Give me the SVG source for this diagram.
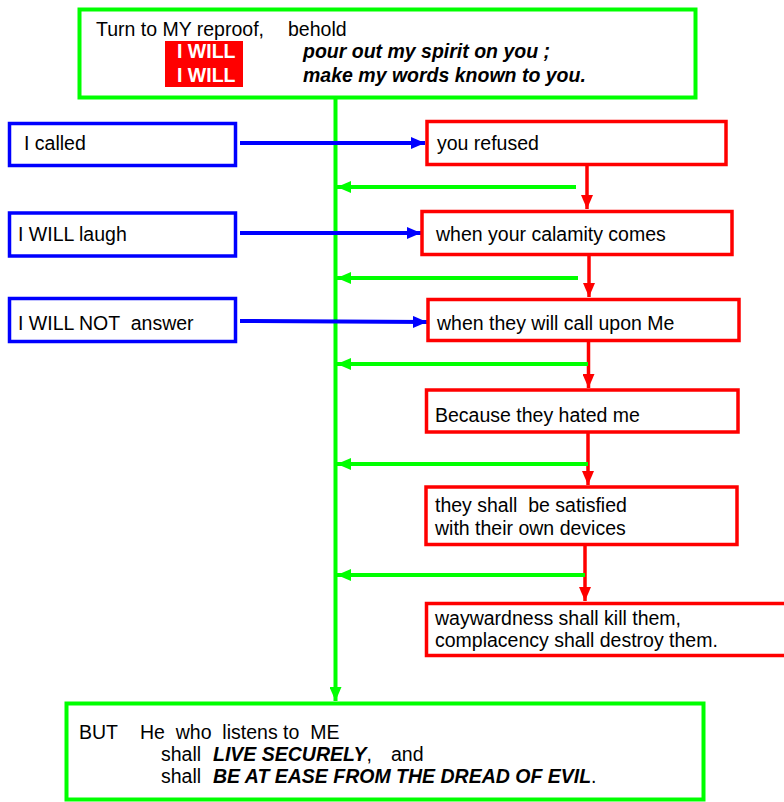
<svg xmlns="http://www.w3.org/2000/svg" width="784" height="802" viewBox="0 0 784 802">
<defs>
<style>
text{font-family:"Liberation Sans",Arial,sans-serif;font-size:19.5px;fill:#000}
.g{fill:#fff;stroke:#00ff00;stroke-width:4}
.b{fill:#fff;stroke:#0000ff;stroke-width:3.5}
.r{fill:#fff;stroke:#ff0000;stroke-width:3.5}
.bi{font-weight:bold;font-style:italic}
.w{fill:#fff;font-weight:bold}
.cg{stroke:#00ff00;stroke-width:4;fill:none}
.cb{stroke:#0000ff;stroke-width:4;fill:none}
.cr{stroke:#ff0000;stroke-width:3.5;fill:none}
</style>
<marker id="ag" markerUnits="userSpaceOnUse" markerWidth="14" markerHeight="12" refX="14" refY="6" orient="auto"><path d="M0,0 L14,6 L0,12 z" fill="#00ff00"/></marker>
<marker id="ab" markerUnits="userSpaceOnUse" markerWidth="14" markerHeight="12" refX="14" refY="6" orient="auto"><path d="M0,0 L14,6 L0,12 z" fill="#0000ff"/></marker>
<marker id="ar" markerUnits="userSpaceOnUse" markerWidth="14" markerHeight="12" refX="14" refY="6" orient="auto"><path d="M0,0 L14,6 L0,12 z" fill="#ff0000"/></marker>
</defs>
<rect width="784" height="802" fill="#fff"/>
<g id="connectors">
<line class="cg" x1="335.5" y1="98" x2="335.5" y2="701" marker-end="url(#ag)"/>
<line class="cb" x1="240" y1="143" x2="425" y2="143" marker-end="url(#ab)"/>
<line class="cb" x1="240" y1="233" x2="421" y2="233" marker-end="url(#ab)"/>
<line class="cb" x1="240" y1="321" x2="427" y2="322" marker-end="url(#ab)"/>
<line class="cr" x1="587" y1="165" x2="587" y2="209" marker-end="url(#ar)"/>
<line class="cr" x1="589" y1="256" x2="589" y2="297" marker-end="url(#ar)"/>
<line class="cr" x1="588.5" y1="341" x2="588.5" y2="388" marker-end="url(#ar)"/>
<line class="cr" x1="588" y1="433" x2="588" y2="485" marker-end="url(#ar)"/>
<line class="cr" x1="585" y1="546" x2="585" y2="601" marker-end="url(#ar)"/>
<line class="cg" x1="576" y1="187" x2="337" y2="187" marker-end="url(#ag)"/>
<line class="cg" x1="578" y1="278" x2="337" y2="278" marker-end="url(#ag)"/>
<line class="cg" x1="588" y1="364" x2="337" y2="364" marker-end="url(#ag)"/>
<line class="cg" x1="588" y1="464" x2="337" y2="464" marker-end="url(#ag)"/>
<line class="cg" x1="585" y1="575" x2="337" y2="575" marker-end="url(#ag)"/>
</g>
<g id="top">
<rect class="g" x="79.5" y="9.5" width="616" height="88"/>
<text x="96" y="36">Turn to MY reproof,</text>
<text x="288" y="36">behold</text>
<rect x="165" y="41" width="78" height="46" fill="#ff0000"/>
<text class="w" x="177" y="58">I WILL</text>
<text class="w" x="177" y="81.5">I WILL</text>
<text class="bi" x="303" y="58">pour out my spirit on you ;</text>
<text class="bi" x="303" y="81.5">make my words known to you.</text>
</g>
<g id="called">
<rect class="b" x="9.5" y="123.5" width="226" height="42"/>
<text x="24" y="150">I called</text>
</g>
<g id="laugh">
<rect class="b" x="9.5" y="213" width="226" height="43"/>
<text x="18" y="241">I WILL laugh</text>
</g>
<g id="notanswer">
<rect class="b" x="9.5" y="298.5" width="226" height="43"/>
<text x="18" y="330" xml:space="preserve">I WILL NOT  answer</text>
</g>
<g id="refused">
<rect class="r" x="427" y="121.5" width="299" height="43"/>
<text x="437" y="150">you refused</text>
</g>
<g id="calamity">
<rect class="r" x="422" y="211.5" width="310" height="43"/>
<text x="436" y="241">when your calamity comes</text>
</g>
<g id="callupon">
<rect class="r" x="428" y="299.5" width="311" height="41"/>
<text x="437" y="330">when they will call upon Me</text>
</g>
<g id="hated">
<rect class="r" x="426.5" y="390" width="311.5" height="42"/>
<text x="435" y="421.5">Because they hated me</text>
</g>
<g id="satisfied">
<rect class="r" x="426" y="487" width="311" height="57.5"/>
<text x="435" y="511.5" xml:space="preserve">they shall  be satisfied</text>
<text x="435" y="534.5">with their own devices</text>
</g>
<g id="wayward">
<rect class="r" x="426.5" y="603.5" width="400" height="52"/>
<text x="435" y="625">waywardness shall kill them,</text>
<text x="435" y="647">complacency shall destroy them.</text>
</g>
<g id="bottom">
<rect class="g" x="66.5" y="703.5" width="637" height="96"/>
<text x="79" y="738.5">BUT</text>
<text x="140" y="738.5" xml:space="preserve">He  who  listens to  ME</text>
<text x="161" y="760.5">shall</text>
<text x="213" y="760.5"><tspan class="bi">LIVE SECURELY</tspan>,</text>
<text x="391" y="760.5">and</text>
<text x="161" y="782.5">shall</text>
<text x="213" y="782.5"><tspan class="bi">BE AT EASE FROM THE DREAD OF EVIL</tspan>.</text>
</g>
</svg>
